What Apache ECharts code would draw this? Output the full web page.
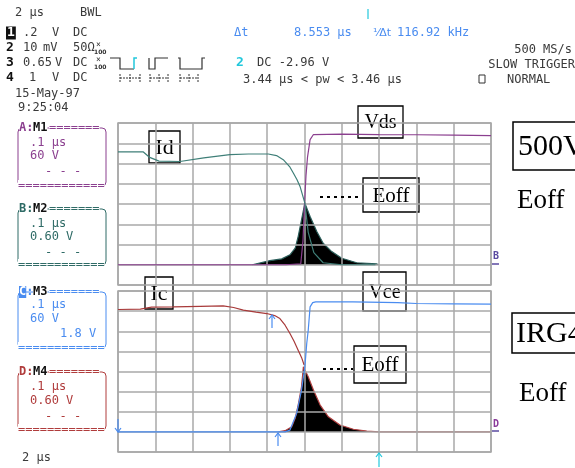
<!DOCTYPE html>
<html>
<head>
<meta charset="utf-8">
<script src="https://cdn.jsdelivr.net/npm/echarts/dist/echarts.min.js"></script>
<style>html,body{margin:0;padding:0;background:#fff}#main{width:575px;height:468px}</style>
</head>
<body>
<div id="main"></div>
<script>
// traces in screen divisions (x: 0..10, y: 0..8)
var vdsTrace = [[0,1.0],[1.5,1.0],[3,1.0],[4.5,1.0],[4.9,1.05],[4.96,2.2],[5.0,4.0],[5.04,5.4],[5.08,6.3],[5.15,7.18],[5.24,7.43],[6.0,7.45],[7.0,7.43],[8.0,7.42],[9.0,7.40],[10,7.38]];
var idTrace = [[0,6.57],[0.68,6.57],[0.85,6.3],[1.1,6.12],[1.66,6.1],[2.3,6.28],[3.0,6.44],[3.5,6.47],[4.03,6.47],[4.25,6.39],[4.43,6.19],[4.6,5.85],[4.7,5.53],[4.8,5.2],[4.88,4.87],[5.01,4.04],[5.1,2.6],[5.25,1.6],[5.5,1.1],[6.0,1.0],[6.9,1.0]];
var eoffTop = [[3.6,1.0],[4.07,1.2],[4.39,1.29],[4.61,1.49],[4.75,1.82],[4.83,2.39],[4.92,3.22],[5.01,4.04],[5.15,3.38],[5.33,2.64],[5.5,2.06],[5.73,1.65],[6.0,1.32],[6.4,1.1],[6.94,1.04],[7.0,1.0]];
var icTrace = [[0,7.08],[0.6,7.1],[0.9,7.2],[1.48,7.21],[2.2,7.24],[2.82,7.26],[3.1,7.18],[3.36,7.05],[3.7,6.95],[3.99,6.88],[4.2,6.78],[4.34,6.63],[4.48,6.3],[4.61,5.89],[4.72,5.5],[4.83,5.06],[4.92,4.7],[4.99,4.32]];
var vceTrace = [[0,1.0],[1.5,1.0],[3,1.0],[4.48,1.0],[4.61,1.09],[4.79,1.92],[4.92,3.08],[5.01,4.23],[5.06,5.39],[5.10,6.05],[5.15,7.21],[5.22,7.42],[5.3,7.46],[6.3,7.46],[7.5,7.42],[8.0,7.38],[9.0,7.36],[10,7.35]];
var eoffBot = [[4.3,1.0],[4.48,1.06],[4.66,1.26],[4.75,1.67],[4.83,2.33],[4.92,3.24],[4.97,4.23],[5.10,3.74],[5.24,3.08],[5.42,2.33],[5.64,1.75],[5.95,1.34],[6.31,1.13],[6.67,1.04],[7.0,1.0],[8.5,1.0],[10,1.0]];

var gridColor = '#a8a8a8';
var mono = '12px "DejaVu Sans Mono"';
var serif = '"Liberation Serif"';

var myChart = echarts.init(document.getElementById('main'));

function axisX(i){
    return {type:'value', gridIndex:i, min:0, max:10, interval:1, z:2,
        axisLabel:{show:false}, axisTick:{show:false}, axisLine:{show:false},
        splitLine:{show:true, lineStyle:{color:gridColor, width:1.5}}};
}
function axisY(i){
    return {type:'value', gridIndex:i, min:0, max:8, interval:1, z:2,
        axisLabel:{show:false}, axisTick:{show:false}, axisLine:{show:false},
        splitLine:{show:true, lineStyle:{color:gridColor, width:1.5}}};
}
function trace(g, data, color, z){
    return {type:'line', xAxisIndex:g, yAxisIndex:g, data:data, symbol:'none', z:z||3,
        lineStyle:{color:color, width:1.2}, animation:false};
}
function fill(g, data, color){
    var s = trace(g, data, color, 1);
    s.areaStyle = {color:'#000', opacity:1, origin:1};
    return s;
}
function txt(x, y, s, color, font, extra){
    var st = {text:s, fill:color||'#3a3a3a', font:font||mono, verticalAlign:'middle'};
    if (extra) for (var k in extra) st[k] = extra[k];
    return {type:'text', x:x, y:y, z:100, style:st};
}
function box(x, y, w, h, s, size){
    return {type:'group', z:100, children:[
        {type:'rect', shape:{x:x, y:y, width:w, height:h}, style:{fill:'#fff', stroke:'#000', lineWidth:1.3}},
        {type:'text', x:x+w/2, y:y+h/2+1, style:{text:s, font:size+'px '+serif, fill:'#000', align:'center', verticalAlign:'middle'}}
    ]};
}
function poly(pts, color, w, dash){
    return {type:'polyline', z:100, shape:{points:pts}, style:{stroke:color, lineWidth:w||1, fill:null, lineDash:dash||null}};
}
function arrowUp(x, y1, y2, color){
    return {type:'group', z:100, children:[
        poly([[x,y1],[x,y2]], color, 1.2),
        poly([[x-3,y1+4],[x,y1],[x+3,y1+4]], color, 1.2)
    ]};
}
function arrowDown(x, y1, y2, color){
    return {type:'group', z:100, children:[
        poly([[x,y1],[x,y2]], color, 1.2),
        poly([[x-3,y2-4],[x,y2],[x+3,y2-4]], color, 1.2)
    ]};
}
function panel(x, y, w, h, color, title, lines, inv){
    var items = [
        {type:'rect', z:99, shape:{x:x, y:y, width:w, height:h, r:4}, style:{fill:null, stroke:color, lineWidth:1}},
        txt(x+1, y, title[0]+':', color, 'bold '+mono, {backgroundColor: inv ? null : '#fff'}),
        txt(x+15, y, title[1], '#111', 'bold '+mono, {backgroundColor:'#fff'}),
        txt(x+31, y, '=======', color, mono, {backgroundColor:'#fff'}),
        txt(x, y+h, '============', color, mono, {backgroundColor:'#fff'})
    ];
    if (inv) items.push(txt(x+1, y, title[0], '#fff', 'bold '+mono, {backgroundColor:color}));
    lines.forEach(function(l){ items.push(txt(x+l[0], y+l[1], l[2], color)); });
    return items;
}

var graphics = [];
var blue = '#4a8cf0', cyan = '#22c8dc';
// header
graphics.push(txt(15, 13, '2 μs'), txt(80, 13, 'BWL'));
graphics.push(txt(6, 33, '1', '#fff', 'bold 13px "DejaVu Sans Mono"', {backgroundColor:'#111', padding:[0,1]}));
graphics.push(txt(6, 48, '2', '#111', 'bold 13px "DejaVu Sans Mono"'), txt(6, 63, '3', '#111', 'bold 13px "DejaVu Sans Mono"'), txt(6, 78, '4', '#111', 'bold 13px "DejaVu Sans Mono"'));
graphics.push(txt(23, 33, '.2'), txt(52, 33, 'V'), txt(73, 33, 'DC'));
graphics.push(txt(23, 48, '10'), txt(43, 48, 'mV'), txt(73, 48, '50Ω'), txt(96, 45, '×', '#333', '8px "DejaVu Sans Mono"'), txt(94, 52, '100', '#333', 'bold 6px "DejaVu Sans"'));
graphics.push(txt(23, 63, '0.65'), txt(55, 63, 'V'), txt(73, 63, 'DC'), txt(96, 60, '×', '#333', '8px "DejaVu Sans Mono"'), txt(94, 67, '100', '#333', 'bold 6px "DejaVu Sans"'));
graphics.push(txt(29, 78, '1'), txt(52, 78, 'V'), txt(73, 78, 'DC'));
graphics.push(txt(15, 94, '15-May-97'), txt(18, 108, '9:25:04'));
// trigger icons
graphics.push(poly([[110,58],[120,58],[120,69],[134,69]], '#333', 1.2), poly([[134,69],[134,58],[137,58]], cyan, 1.5));
graphics.push(poly([[149,58],[149,69],[155,69],[155,58],[168,58]], '#333', 1.2));
graphics.push(poly([[178,58],[180,58],[180,69],[202,69],[202,58],[205,58]], '#333', 1.2));
[[120,140],[150,168],[180,198]].forEach(function(r){
    var m = (r[0]+r[1])/2;
    graphics.push(poly([[r[0],78],[r[1],78]], '#333', 1, [2,1]));
    graphics.push(poly([[r[0],74],[r[0],82]], '#333', 1, [2,1]), poly([[m,74],[m,82]], '#333', 1, [2,1]), poly([[r[1],74],[r[1],82]], '#333', 1, [2,1]));
});
// cursor readout
graphics.push(poly([[368,9],[368,19]], cyan, 1.2));
graphics.push(txt(234, 33, 'Δt', blue), txt(294, 33, '8.553 μs', blue), txt(373, 33, '¹⁄Δt', blue, '11px "DejaVu Sans"'), txt(397, 33, '116.92 kHz', blue));
graphics.push(txt(236, 63, '2', cyan, 'bold 13px "DejaVu Sans Mono"'), txt(257, 63, 'DC -2.96 V'), txt(243, 80, '3.44 μs < pw < 3.46 μs'));
graphics.push(txt(572, 50, '500 MS/s', null, null, {align:'right'}), txt(575, 65, 'SLOW TRIGGER', null, null, {align:'right'}), txt(507, 80, 'NORMAL'));
graphics.push({type:'rect', z:100, shape:{x:479, y:75, width:6, height:8}, style:{fill:null, stroke:'#333', lineWidth:1}});
// trace panels
graphics = graphics.concat(panel(18, 128, 88, 58, '#8b3f8f', ['A','M1'], [[12,15,'.1 μs'],[12,28,'60 V'],[27,44,'- - -']]));
graphics = graphics.concat(panel(18, 209, 88, 56, '#2f6b66', ['B','M2'], [[12,15,'.1 μs'],[12,28,'0.60 V'],[27,44,'- - -']]));
graphics = graphics.concat(panel(18, 292, 88, 56, blue, ['C','M3'], [[12,13,'.1 μs'],[12,27,'60 V'],[42,42,'1.8 V']], true));
graphics = graphics.concat(panel(18, 372, 88, 58, '#b03c3c', ['D','M4'], [[12,15,'.1 μs'],[12,29,'0.60 V'],[27,45,'- - -']]));
graphics.push(txt(22, 458, '2 μs'));
// channel markers
graphics.push(txt(493, 256, 'B', '#5a4aa0', 'bold 10px "DejaVu Sans Mono"'), poly([[492,264],[499,264]], '#5a4aa0', 1.5));
graphics.push(txt(493, 424, 'D', '#8a3a9a', 'bold 10px "DejaVu Sans Mono"'), poly([[492,431],[499,431]], '#5a4aa0', 1.5));
graphics.push(arrowUp(272, 315, 328, blue), arrowUp(278, 433, 446, blue), arrowUp(379, 453, 467, cyan), arrowDown(118, 419, 432, blue));
// annotations
graphics.push(box(149, 131, 31, 32, 'Id', 22), box(358, 106, 45, 32, 'Vds', 20), box(363, 178, 56, 34, 'Eoff', 21));
graphics.push(box(145, 277, 28, 32, 'Ic', 22), box(363, 272, 43, 39, 'Vce', 20), box(354, 346, 52, 37, 'Eoff', 21));
graphics.push(poly([[320,197],[362,197]], '#000', 2, [3,4]), poly([[323,369],[353,369]], '#000', 2, [3,4]));
graphics.push({type:'rect', z:100, shape:{x:513, y:122, width:70, height:48}, style:{fill:'#fff', stroke:'#000', lineWidth:1.5}});
graphics.push(txt(518, 147, '500V', '#000', '30px '+serif), txt(517, 201, 'Eoff', '#000', '27px '+serif));
graphics.push({type:'rect', z:100, shape:{x:512, y:313, width:70, height:40}, style:{fill:'#fff', stroke:'#000', lineWidth:1.5}});
graphics.push(txt(516, 334, 'IRG4', '#000', '30px '+serif), txt(519, 394, 'Eoff', '#000', '27px '+serif));

var option = {
    animation: false,
    grid: [
        {left:118, top:123, width:373, height:162, show:true, borderColor:gridColor, borderWidth:1.5, backgroundColor:'#fff'},
        {left:118, top:291, width:373, height:161, show:true, borderColor:gridColor, borderWidth:1.5, backgroundColor:'#fff'}
    ],
    xAxis: [axisX(0), axisX(1)],
    yAxis: [axisY(0), axisY(1)],
    series: [
        fill(0, eoffTop, '#2a5e5a'),
        trace(0, vdsTrace, '#8b3f8f'),
        trace(0, idTrace, '#3f7f78'),
        fill(1, eoffBot, '#b04040'),
        trace(1, icTrace, '#a83a3a'),
        trace(1, vceTrace, blue)
    ],
    graphic: graphics
};
myChart.setOption(option);
</script>
</body>
</html>
